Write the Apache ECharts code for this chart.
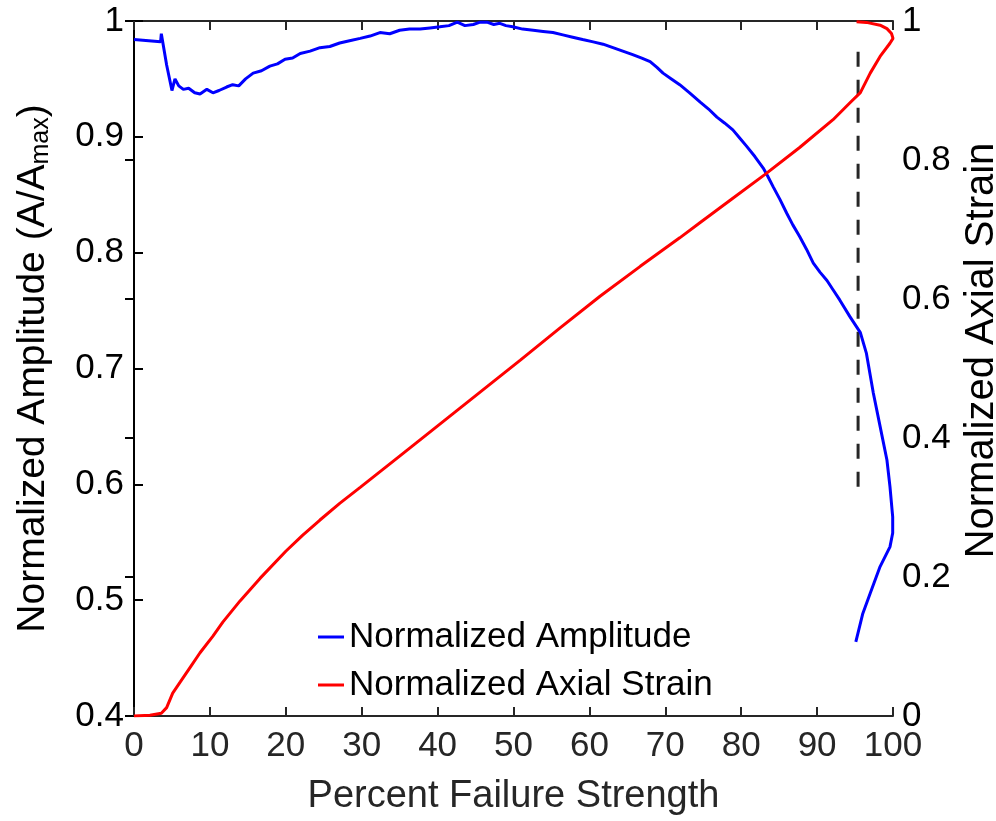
<!DOCTYPE html>
<html><head><meta charset="utf-8">
<script src="https://cdn.jsdelivr.net/npm/echarts@6/dist/echarts.min.js"></script>
<style>html,body{margin:0;padding:0;background:#fff;overflow:hidden;width:996px;height:821px}#c{width:996px;height:821px}</style>
</head><body><div id="c"></div>
<script>
// ---- data ----
const xTicks = [0,10,20,30,40,50,60,70,80,90,100];
const leftTicks = [0.4,0.5,0.6,0.7,0.8,0.9,1];
const rightTicks = [0,0.2,0.4,0.6,0.8,1];

const ampX = [0,3.5,3.6,4.3,5.0,5.4,5.9,6.5,7.2,8.0,8.7,9.6,10.4,11.2,12.2,13.0,13.8,14.7,15.7,16.8,17.9,18.9,19.9,20.9,21.9,23.2,24.5,25.8,27.1,28.4,29.8,31.1,32.4,33.7,35.0,36.3,37.7,39.0,40.3,41.5,42.6,43.6,44.7,45.6,46.5,47.4,48.2,49.0,49.9,51.2,52.6,53.9,55.2,56.5,57.8,59.1,60.5,61.8,63.1,64.4,65.7,66.9,68.0,68.9,69.7,70.8,71.9,73.2,74.6,75.7,76.8,77.8,78.9,79.8,80.7,81.8,82.9,83.5,84.2,85.1,86.0,86.8,87.7,88.6,89.5,90.4,91.3,92.1,93.0,94.3,95.7,96.5,97.4,98.3,99.2,99.6,99.96,99.96,99.6,98.3,97.0,96.0,95.1];
const ampY = [0.984,0.982,0.989,0.962,0.940,0.950,0.944,0.941,0.942,0.938,0.937,0.941,0.938,0.940,0.943,0.945,0.944,0.950,0.955,0.957,0.961,0.963,0.967,0.968,0.972,0.974,0.977,0.978,0.981,0.983,0.985,0.987,0.990,0.989,0.992,0.993,0.993,0.994,0.995,0.996,0.999,0.996,0.997,0.999,0.999,0.997,0.998,0.996,0.995,0.993,0.992,0.991,0.990,0.988,0.986,0.984,0.982,0.980,0.977,0.974,0.971,0.968,0.965,0.960,0.955,0.950,0.945,0.938,0.930,0.924,0.917,0.912,0.906,0.899,0.892,0.883,0.873,0.866,0.857,0.846,0.834,0.824,0.814,0.803,0.791,0.783,0.776,0.768,0.759,0.745,0.731,0.713,0.679,0.650,0.621,0.598,0.572,0.558,0.546,0.529,0.506,0.488,0.464];

const strainX = [0,2.1,3.6,4.3,5.1,6.1,7.4,8.7,10.4,11.7,14.0,16.6,20.0,22.2,24.5,27.1,29.8,35.0,40.3,45.6,50.9,56.1,61.4,66.7,71.9,74.6,78.9,83.1,87.7,92.1,94.3,95.7,97.0,98.3,99.6,100.0,99.8,99.2,98.3,96.5,95.2];
const strainY = [0,0.001,0.004,0.012,0.033,0.049,0.070,0.091,0.115,0.135,0.166,0.198,0.237,0.260,0.282,0.306,0.329,0.374,0.420,0.466,0.512,0.558,0.604,0.647,0.688,0.710,0.745,0.779,0.818,0.858,0.882,0.897,0.925,0.949,0.968,0.975,0.982,0.989,0.994,0.998,0.999];

const dashX = [95.4,95.4];
const dashY = [0.598,0.978];

const names = ['Normalized Amplitude','Normalized Axial Strain'];

const zip = (a,b) => a.map((v,i)=>[v,b[i]]);
const FONT = '"Liberation Sans", Arial, Helvetica, sans-serif';
const axisCol = '#000';
const lblCol = '#262626';

const chart = echarts.init(document.getElementById('c'), null, {renderer:'canvas', width:996, height:821});
chart.setOption({
  animation:false,
  textStyle:{fontFamily:FONT},
  grid:{left:134,right:103,top:21,bottom:105,containLabel:false,outerBoundsMode:'none'},
  legend:{
    data:names, orient:'vertical', left:313, top:614,
    icon:'rect', itemWidth:26, itemHeight:3, itemGap:12,
    textStyle:{fontSize:35,color:'#000',fontFamily:FONT,lineHeight:36}
  },
  xAxis:[{
    type:'value', min:0, max:100, interval:10,
    name:'Percent Failure Strength', nameLocation:'middle', nameGap:62,
    nameTextStyle:{fontSize:38,color:lblCol,fontFamily:FONT},
    axisLine:{lineStyle:{color:'#262626',width:2}},
    axisTick:{inside:true,length:9,lineStyle:{color:'#262626',width:2}},
    axisLabel:{fontSize:35,color:lblCol,margin:13,fontFamily:FONT},
    splitLine:{show:false}
  },{
    type:'value', min:0, max:100, interval:10, position:'top',
    axisLine:{lineStyle:{color:'#262626',width:2}},
    axisTick:{inside:true,length:9,lineStyle:{color:'#262626',width:2}},
    axisLabel:{show:false}, splitLine:{show:false}
  }],
  yAxis:[{
    type:'value', min:0.4, max:1, interval:0.1, position:'left',
    name:'Normalized Amplitude (A/A{sub|max})', nameLocation:'middle', nameGap:80, nameRotate:90,
    nameTextStyle:{fontSize:39,color:'#000',fontFamily:FONT,
      rich:{sub:{fontSize:25,color:'#000',fontFamily:FONT,verticalAlign:'bottom',padding:[16,0,0,0]}}},
    axisLine:{lineStyle:{color:axisCol,width:2}},
    axisTick:{inside:true,length:9,lineStyle:{color:axisCol,width:2}},
    axisLabel:{fontSize:35,color:'#000',margin:10,fontFamily:FONT,
      formatter:v=>String(+v.toFixed(1))},
    splitLine:{show:false}
  },{
    type:'value', min:0, max:1, interval:0.2, position:'right',
    name:'Normalized Axial Strain', nameLocation:'middle', nameGap:66, nameRotate:90,
    nameTextStyle:{fontSize:40,color:'#000',fontFamily:FONT,padding:[0,0,0,36]},
    axisLine:{lineStyle:{color:axisCol,width:2}},
    axisTick:{inside:true,length:9,lineStyle:{color:axisCol,width:2}},
    axisLabel:{fontSize:35,color:'#000',margin:9,fontFamily:FONT,
      formatter:v=>String(+v.toFixed(1))},
    splitLine:{show:false}
  }],
  series:[{
    name:names[0], type:'line', xAxisIndex:0, yAxisIndex:0, data:zip(ampX,ampY),
    showSymbol:false, symbol:'none', lineStyle:{color:'#0000ff',width:3}, itemStyle:{color:'#0000ff'}, z:3
  },{
    name:names[1], type:'line', xAxisIndex:0, yAxisIndex:1, data:zip(strainX,strainY),
    showSymbol:false, symbol:'none', lineStyle:{color:'#ff0000',width:3}, itemStyle:{color:'#ff0000'}, z:4
  },{
    name:'dash', type:'line', xAxisIndex:0, yAxisIndex:0, data:zip(dashX,dashY),
    showSymbol:false, symbol:'none', lineStyle:{color:'#262626',width:3,type:[15,13]}, z:2
  }]
});
</script></body></html>
